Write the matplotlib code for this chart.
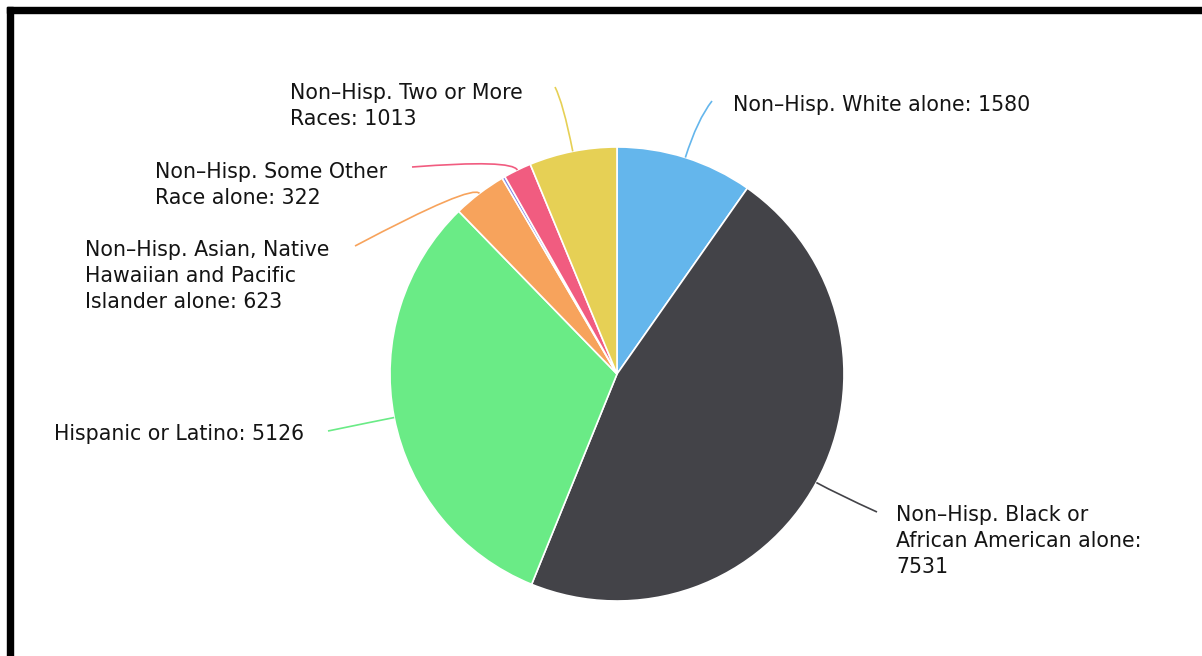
"""Highcharts 風の人種構成パイチャートを matplotlib で再現。"""
import numpy as np
import matplotlib
matplotlib.use("Agg")
import matplotlib.pyplot as plt
from matplotlib.path import Path
from matplotlib.patches import PathPatch, Rectangle

W, H = 1202, 656

# --- data ---
categories = ["Non-Hisp. White alone",
              "Non-Hisp. Black or African American alone",
              "Hispanic or Latino",
              "Non-Hisp. Asian, Native Hawaiian and Pacific Islander alone",
              "Non-Hisp. American Indian and Alaska Native alone",
              "Non-Hisp. Some Other Race alone",
              "Non-Hisp. Two or More Races"]
values = [1580, 7531, 5126, 623, 35, 322, 1013]
label_texts = ["Non\u2013Hisp. White alone: 1580",
               "Non\u2013Hisp. Black or\nAfrican American alone:\n7531",
               "Hispanic or Latino: 5126",
               "Non\u2013Hisp. Asian, Native\nHawaiian and Pacific\nIslander alone: 623",
               None,
               "Non\u2013Hisp. Some Other\nRace alone: 322",
               "Non\u2013Hisp. Two or More\nRaces: 1013"]
colors = ["#64b6ec", "#434348", "#6aeb86", "#f7a35c", "#8085e9", "#f15c80", "#e6d055"]

# --- layout (pixel coords, y down) ---
center_px = (617, 374)
radius = 227
text_pos = [(733, 105), (896, 541), (54, 434), (85, 276), None, (155, 185), (290, 106)]
line_end = [(712, 101), (877, 512), (328, 431), (355, 246), None, (412, 167), (555, 87)]
elbow = [40, 25, 20, 12, None, 12, 50]

fig = plt.figure(figsize=(W / 100, H / 100), dpi=100)
ax = fig.add_axes([0, 0, 1, 1])

cx, cy = center_px[0], H - center_px[1]
wedges, _ = ax.pie(values, colors=colors, startangle=90, counterclock=False,
                   center=(cx, cy), radius=radius, frame=True,
                   wedgeprops=dict(edgecolor="white", linewidth=1.2))
ax.set_xlim(0, W)
ax.set_ylim(0, H)
ax.set_axis_off()

for w, txt, tp, le, k in zip(wedges, label_texts, text_pos, line_end, elbow):
    if txt is None:
        continue
    mid = np.deg2rad((w.theta1 + w.theta2) / 2)
    d = np.array([np.cos(mid), np.sin(mid)])
    s = np.array([cx, cy]) + radius * d
    c = s + k * d
    e = np.array([le[0], H - le[1]])
    path = Path([s, c, e], [Path.MOVETO, Path.CURVE3, Path.CURVE3])
    ax.add_patch(PathPatch(path, facecolor="none", edgecolor=w.get_facecolor(),
                           lw=1.2, clip_on=False))
    ax.text(tp[0], H - tp[1], txt, ha="left", va="center", multialignment="left",
            fontsize=14.8, color="#141414", linespacing=1.4, family="DejaVu Sans")

# 枠線（上と左のみ見えている）
ax.add_patch(Rectangle((7, H - 13), W - 7, 6, color="black", clip_on=False))
ax.add_patch(Rectangle((7, 0), 6, H - 7, color="black", clip_on=False))

fig.savefig("out.png", dpi=100)
